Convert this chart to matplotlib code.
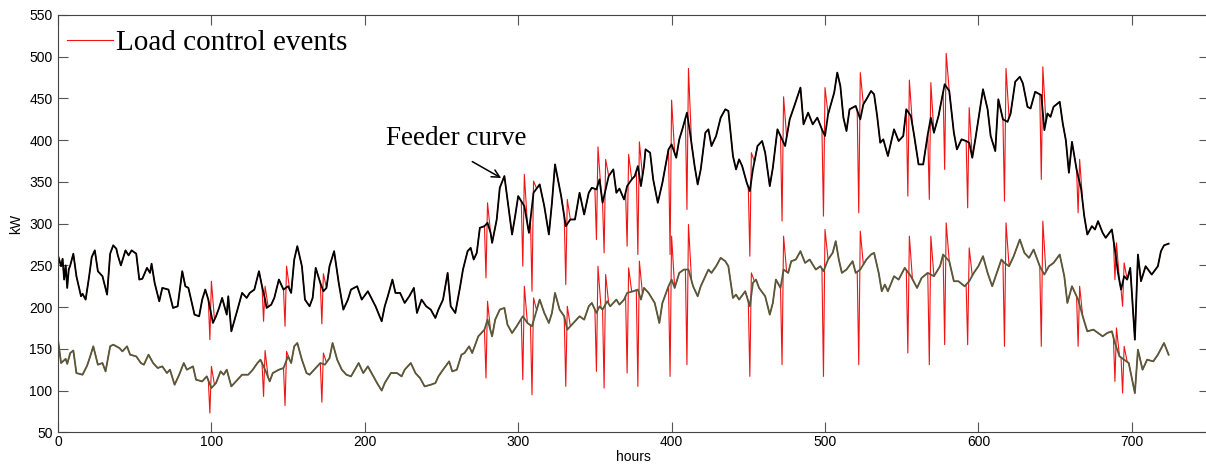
# plot.py
#
#    purpose: feeder load curve with load control events (hourly kW)
#

# import necessary libraries
import matplotlib
matplotlib.use("Agg")
import matplotlib.pyplot as plt
import numpy as np

feeder_hours = [0, 2, 3, 4, 5, 6, 7, 8, 10, 12, 15, 16, 18, 20, 22, 24, 26, 29, 32, 34,
                36, 38, 39, 41, 44, 46, 48, 51, 53, 55, 58, 60, 61, 63, 66, 68, 72, 75, 78, 81,
                83, 85, 89, 92, 94, 96, 98, 101, 103, 105, 107, 110, 111, 113, 117, 120, 123, 125, 128, 131,
                133, 135, 136, 139, 141, 144, 147, 150, 152, 154, 156, 159, 161, 164, 166, 168, 171, 173, 175, 177,
                180, 183, 186, 189, 191, 195, 198, 202, 207, 211, 213, 215, 218, 220, 223, 226, 229, 232, 234, 237,
                240, 243, 246, 248, 251, 254, 256, 259, 262, 264, 267, 269, 271, 273, 275, 278, 280, 282, 283, 286,
                288, 291, 293, 296, 298, 300, 304, 307, 310, 314, 317, 320, 322, 324, 328, 331, 334, 337, 340, 343,
                346, 348, 351, 353, 355, 357, 359, 362, 364, 366, 369, 371, 374, 376, 378, 380, 382, 383, 386, 388,
                391, 394, 398, 400, 403, 405, 407, 410, 412, 415, 417, 419, 422, 424, 426, 429, 432, 435, 437, 440,
                442, 444, 446, 449, 451, 453, 456, 459, 461, 464, 466, 469, 472, 474, 477, 480, 484, 486, 489, 492,
                495, 498, 500, 502, 506, 508, 510, 512, 514, 516, 520, 523, 525, 527, 530, 532, 534, 536, 538, 541,
                545, 548, 551, 553, 556, 558, 561, 564, 567, 569, 571, 574, 578, 581, 584, 586, 589, 592, 594, 596,
                598, 600, 603, 606, 608, 611, 613, 616, 619, 621, 624, 627, 629, 632, 634, 637, 641, 643, 645, 647,
                649, 653, 655, 657, 659, 661, 664, 667, 669, 671, 674, 676, 678, 681, 683, 687, 689, 691, 693, 695,
                697, 699, 702, 704, 706, 709, 713, 717, 719, 721, 724]
feeder_kw = [262, 249, 258, 233, 250, 223, 245, 250, 264, 237, 213, 216, 209, 233, 260, 268, 243, 237, 215, 264,
             274, 270, 262, 250, 268, 262, 268, 264, 233, 234, 247, 241, 252, 229, 207, 223, 221, 199, 201, 243,
             225, 223, 191, 189, 209, 221, 209, 181, 189, 199, 211, 191, 213, 171, 197, 217, 211, 217, 221, 243,
             225, 209, 199, 203, 211, 233, 221, 225, 217, 257, 273, 249, 209, 201, 211, 247, 229, 219, 223, 249,
             267, 229, 197, 209, 221, 225, 209, 219, 201, 183, 201, 213, 233, 217, 217, 205, 213, 223, 193, 209,
             201, 197, 187, 197, 209, 241, 201, 193, 223, 245, 267, 271, 257, 265, 295, 297, 301, 289, 277, 305,
             343, 357, 329, 287, 309, 333, 321, 289, 337, 347, 321, 287, 325, 371, 333, 297, 305, 305, 337, 311,
             337, 343, 341, 353, 325, 341, 357, 365, 337, 342, 329, 345, 353, 357, 369, 345, 369, 389, 385, 353,
             325, 349, 389, 395, 379, 401, 413, 433, 409, 369, 347, 365, 409, 413, 393, 405, 427, 437, 435, 381,
             365, 377, 369, 349, 339, 365, 393, 399, 385, 345, 367, 413, 401, 393, 425, 441, 463, 419, 433, 419,
             427, 413, 405, 431, 457, 481, 465, 427, 411, 437, 441, 425, 443, 449, 459, 455, 429, 397, 401, 381,
             413, 399, 405, 437, 429, 407, 371, 371, 407, 427, 409, 429, 467, 459, 409, 389, 401, 399, 397, 379,
             401, 425, 461, 437, 405, 387, 449, 425, 422, 432, 470, 476, 468, 440, 438, 458, 454, 412, 432, 428,
             440, 446, 420, 400, 361, 398, 365, 341, 309, 287, 297, 293, 303, 289, 283, 293, 269, 241, 221, 237,
             233, 247, 161, 263, 231, 249, 239, 249, 267, 274, 276]

# second (lower) curve, olive
lower_hours = [0, 2, 5, 6, 8, 10, 12, 16, 19, 21, 23, 26, 29, 31, 34, 36, 40, 42, 45, 47,
               51, 54, 56, 59, 62, 65, 68, 71, 73, 76, 79, 82, 84, 88, 90, 94, 97, 100, 103, 106,
               108, 110, 113, 117, 120, 124, 127, 130, 132, 135, 138, 140, 142, 144, 147, 150, 152, 154, 156, 159,
               162, 164, 167, 171, 174, 177, 179, 182, 185, 188, 191, 196, 199, 202, 205, 208, 211, 213, 217, 221,
               224, 226, 230, 233, 236, 239, 243, 246, 248, 251, 255, 257, 260, 263, 265, 268, 270, 272, 274, 278,
               280, 283, 285, 288, 291, 293, 296, 299, 303, 306, 309, 314, 317, 320, 322, 324, 327, 330, 332, 335,
               340, 343, 346, 348, 351, 353, 355, 358, 360, 364, 366, 369, 371, 375, 378, 380, 382, 385, 389, 392,
               394, 398, 400, 402, 405, 408, 411, 414, 417, 419, 424, 426, 429, 432, 435, 437, 440, 442, 444, 448,
               451, 453, 455, 457, 461, 464, 466, 468, 471, 473, 476, 478, 481, 484, 487, 490, 494, 497, 499, 502,
               505, 507, 509, 511, 514, 518, 520, 523, 527, 530, 532, 535, 537, 539, 541, 545, 548, 552, 556, 560,
               563, 567, 571, 575, 577, 581, 584, 587, 591, 594, 597, 600, 603, 606, 609, 612, 615, 617, 620, 623,
               627, 630, 633, 636, 640, 643, 646, 649, 653, 656, 658, 661, 665, 668, 671, 675, 678, 681, 684, 687,
               689, 692, 695, 698, 702, 704, 707, 710, 714, 717, 721, 724]
lower_kw = [161, 133, 138, 132, 145, 148, 121, 119, 130, 141, 153, 131, 133, 123, 153, 155, 151, 147, 153, 143,
            141, 133, 131, 143, 133, 127, 129, 121, 125, 107, 119, 133, 125, 129, 113, 111, 117, 103, 109, 123,
            119, 125, 105, 113, 119, 119, 125, 133, 137, 125, 111, 121, 123, 125, 127, 141, 133, 153, 157, 137,
            121, 119, 125, 133, 131, 139, 157, 137, 125, 119, 117, 133, 121, 129, 119, 109, 100, 109, 121, 121,
            117, 125, 133, 121, 115, 105, 107, 109, 117, 125, 135, 123, 125, 143, 145, 153, 145, 155, 165, 173,
            185, 165, 185, 197, 199, 179, 169, 177, 189, 181, 177, 209, 193, 181, 193, 217, 197, 189, 173, 179,
            189, 185, 201, 205, 193, 201, 197, 207, 201, 209, 203, 209, 217, 219, 221, 209, 223, 217, 205, 181,
            205, 225, 233, 223, 241, 245, 245, 225, 213, 225, 245, 241, 249, 259, 255, 249, 211, 215, 209, 219,
            201, 229, 233, 223, 213, 191, 205, 233, 223, 245, 241, 255, 257, 267, 253, 257, 245, 249, 243, 257,
            265, 279, 257, 241, 245, 255, 241, 245, 257, 263, 265, 241, 219, 227, 219, 237, 233, 247, 237, 223,
            235, 241, 237, 249, 263, 255, 231, 231, 225, 231, 241, 249, 261, 241, 225, 241, 257, 253, 249, 261,
            281, 265, 259, 269, 249, 239, 249, 253, 263, 237, 205, 225, 209, 189, 171, 173, 169, 165, 169, 171,
            157, 141, 137, 133, 97, 149, 125, 137, 135, 143, 157, 143]

# load control events: hour, curtailed value and payback peak on each curve
event_hours = [99, 134, 148, 172, 279, 303, 309, 331, 351, 356, 371, 378, 399, 410,
               451, 472, 499, 522, 554, 568, 578, 593, 617, 641, 665, 689, 694]
feeder_drop = [161, 183, 177, 180, 235, 249, 219, 227, 281, 265, 273, 263, 263, 317,
               261, 303, 309, 313, 333, 329, 365, 319, 327, 353, 313, 233, 201]
feeder_peak = [231, 225, 249, 240, 325, 359, 351, 329, 392, 377, 383, 398, 448, 486,
               385, 452, 463, 481, 472, 469, 504, 439, 486, 488, 377, 277, 253]
lower_drop = [73, 93, 82, 86, 115, 113, 95, 105, 123, 103, 121, 105, 117, 131,
              117, 131, 117, 131, 145, 131, 155, 155, 153, 153, 153, 111, 97]
lower_peak = [129, 148, 147, 145, 207, 225, 211, 201, 249, 239, 247, 255, 285, 299,
              241, 285, 293, 291, 285, 285, 301, 271, 301, 303, 225, 175, 153]

# axis ticks
x_ticks = [0, 100, 200, 300, 400, 500, 600, 700]
y_ticks = [50, 100, 150, 200, 250, 300, 350, 400, 450, 500, 550]

###################
#    withEvents   #
###################
def withEvents(hours, kw, evHours, drops, peaks):
    '''Returns the curve with the load control events put in:
       the curve is left an hour before the event, drops,
       pays back the next hour and joins the curve again'''
    hours = np.asarray(hours, float)
    kw = np.asarray(kw, float)
    evHours = np.asarray(evHours, float)
    # drop the curve points that fall inside an event
    keep = np.ones(len(hours), bool)
    for e in evHours:
        keep &= ~((hours > e - 1) & (hours < e + 3))
    pre = evHours - 1
    post = evHours + 3
    x = np.concatenate([hours[keep], pre, evHours, evHours + 1, post])
    y = np.concatenate([kw[keep], np.interp(pre, hours, kw), drops, peaks,
                        np.interp(post, hours, kw)])
    order = np.argsort(x, kind="stable")
    return x[order], y[order]

# set up figure, axes placed like the matlab figure (right edge just off the picture)
plt.rcParams["font.family"] = ["Liberation Sans", "DejaVu Sans"]
fig = plt.figure(figsize=(12.06, 4.68), dpi=100)
ax = fig.add_axes([58 / 1206, 1 - 432.3 / 468, 1150.5 / 1206, 417.3 / 468])

# red event curves go underneath
redTopX, redTopY = withEvents(feeder_hours, feeder_kw, event_hours, feeder_drop, feeder_peak)
redLowX, redLowY = withEvents(lower_hours, lower_kw, event_hours, lower_drop, lower_peak)
ax.plot(redTopX, redTopY, color="#f01414", lw=0.8, label="Load control events")
ax.plot(redLowX, redLowY, color="#f01414", lw=0.8)

# feeder and lower curve on top
ax.plot(feeder_hours, feeder_kw, color="black", lw=1.3)
ax.plot(lower_hours, lower_kw, color="#565a3b", lw=1.3)

# limits and ticks
ax.set_xlim(0, 750)
ax.set_ylim(50, 550)
ax.set_xticks(x_ticks)
ax.set_yticks(y_ticks)
ax.tick_params(direction="in", length=7.5, width=0.8, color="#555555",
               top=True, right=True, labelsize=10, pad=2)
ax.tick_params(axis="y", pad=4)
for s in ax.spines.values():
    s.set_color("#444444")
    s.set_linewidth(0.8)

ax.set_xlabel("hours", fontsize=10, labelpad=1)
ax.set_ylabel("kW", fontsize=10, labelpad=4)

# legend, times style font
leg = ax.legend(loc="upper left", bbox_to_anchor=(0.0, 0.985), frameon=False,
                handlelength=1.6, handletextpad=0.1, borderpad=0.1, borderaxespad=0.2,
                prop={"family": "Liberation Serif", "size": 21})

# feeder curve label with arrow
ax.annotate("Feeder curve", xy=(290.5, 353), xytext=(214, 394.5),
            fontsize=19.5, family="Liberation Serif", va="baseline", ha="left")
ax.annotate("", xy=(290.5, 353), xytext=(268.5, 376),
            arrowprops=dict(arrowstyle="->", color="black", lw=1.1, mutation_scale=14))

fig.savefig("out.png", dpi=100)
